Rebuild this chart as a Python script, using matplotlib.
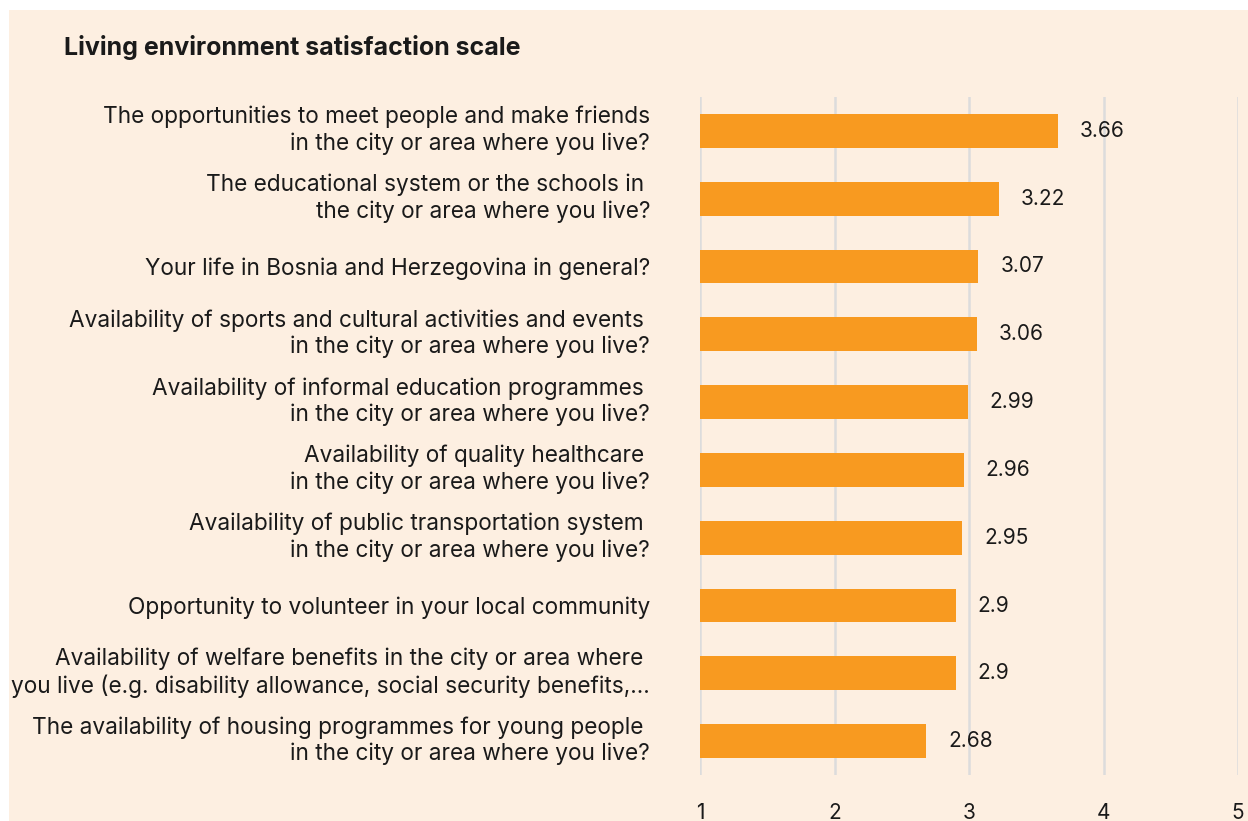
import matplotlib
matplotlib.use("Agg")
import matplotlib.pyplot as plt
from matplotlib.patches import Rectangle
from matplotlib.transforms import Affine2D

title = "Living environment satisfaction scale"
categories = [
    "The opportunities to meet people and make friends\nin the city or area where you live?",
    "The educational system or the schools in \nthe city or area where you live?",
    "Your life in Bosnia and Herzegovina in general?",
    "Availability of sports and cultural activities and events \nin the city or area where you live?",
    "Availability of informal education programmes \nin the city or area where you live?",
    "Availability of quality healthcare \nin the city or area where you live?",
    "Availability of public transportation system \nin the city or area where you live?",
    "Opportunity to volunteer in your local community",
    "Availability of welfare benefits in the city or area where \nyou live (e.g. disability allowance, social security benefits,...",
    "The availability of housing programmes for young people \nin the city or area where you live?",
]
values = [3.66, 3.22, 3.07, 3.06, 2.99, 2.96, 2.95, 2.9, 2.9, 2.68]
xticks = [1, 2, 3, 4, 5]
value_labels = ["3.66", "3.22", "3.07", "3.06", "2.99", "2.96", "2.95", "2.9", "2.9", "2.68"]

BG = "#fdefe1"
BAR = "#f89a20"
GRID = "#dcdcdc"
TXT = "#1a1a1a"
FONT = ["Inter", "DejaVu Sans"]

plt.rcParams["font.family"] = FONT

W, H = 1248, 821
fig = plt.figure(figsize=(W / 100, H / 100), dpi=100)
fig.patch.set_facecolor("white")
fig.patches.append(Rectangle((9 / W, 0), 1 - 9 / W, 1 - 10 / H, transform=fig.transFigure,
                             facecolor=BG, edgecolor="none", zorder=-10))

ax = fig.add_axes([700 / W, (H - 775) / H, (1238 - 700) / W, (775 - 97) / H])
ax.set_facecolor("none")

n = len(categories)
ypos = list(range(n))
ax.barh(ypos, [v - 1 for v in values], left=1, height=0.5, color=BAR, zorder=3)
ax.set_xlim(1, 5)
ax.set_ylim(n - 0.5, -0.5)

for y, v, lab in zip(ypos, values, value_labels):
    ax.annotate(lab, (v, y), xytext=(22, 0), textcoords="offset pixels",
                ha="left", va="center", fontsize=15, color=TXT)

ax.set_xticks(xticks)
ax.set_xticklabels([str(t) for t in xticks], fontsize=15, color=TXT)
ax.tick_params(axis="x", length=0, pad=20)
ax.set_yticks(ypos)
ax.set_yticklabels(categories, fontsize=16.3, color=TXT, ha="right", multialignment="right",
                   linespacing=1.22)
ax.tick_params(axis="y", length=0, pad=36)
for lab in ax.get_yticklabels():
    if "\n" in lab.get_text():
        lab.set_transform(lab.get_transform() + Affine2D().translate(0, 5))
ax.grid(axis="x", color=GRID, linewidth=1.8, zorder=0)
for s in ax.spines.values():
    s.set_visible(False)

fig.text(64 / W, 1 - 48 / H, title, fontsize=18, fontweight="bold", color=TXT,
         ha="left", va="center")

fig.savefig("out.png", dpi=100, facecolor=fig.get_facecolor())
